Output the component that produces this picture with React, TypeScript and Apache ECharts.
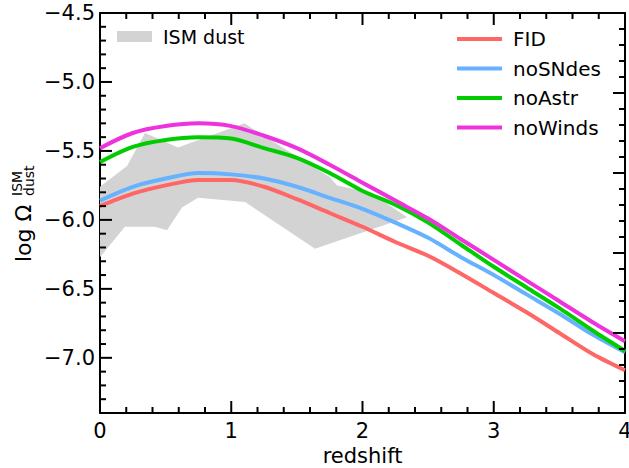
import React, { useEffect, useRef } from "react";
import * as echarts from "echarts";

const redshift = [0, 0.25, 0.5, 0.75, 1, 1.25, 1.5, 1.75, 2, 2.25, 2.5, 2.75, 3, 3.25, 3.5, 3.75, 4];
const fid = [-5.9, -5.81, -5.75, -5.71, -5.71, -5.76, -5.85, -5.95, -6.05, -6.16, -6.26, -6.39, -6.53, -6.67, -6.82, -6.97, -7.09];
const noSNdes = [-5.86, -5.76, -5.7, -5.66, -5.67, -5.7, -5.76, -5.84, -5.92, -6.02, -6.13, -6.27, -6.4, -6.54, -6.68, -6.83, -6.96];
const noAstr = [-5.58, -5.47, -5.42, -5.4, -5.41, -5.48, -5.55, -5.66, -5.79, -5.89, -6.02, -6.18, -6.34, -6.49, -6.64, -6.8, -6.95];
const noWinds = [-5.48, -5.37, -5.32, -5.3, -5.32, -5.39, -5.48, -5.6, -5.73, -5.86, -5.99, -6.14, -6.29, -6.44, -6.59, -6.74, -6.88];

const bandUpperX = [0, 0.206, 0.343, 0.594, 1.1, 1.752, 1.806, 2.057, 2.34];
const bandUpperY = [-5.76, -5.61, -5.37, -5.475, -5.3, -5.69, -5.75, -5.8, -5.98];
const bandLowerX = [1.638, 1.105, 0.747, 0.625, 0.51, 0.42, 0.19, 0];
const bandLowerY = [-6.21, -5.87, -5.84, -5.91, -6.075, -6.05, -6.05, -6.27];

const xMajorTicks = [0, 1, 2, 3, 4];
const xMinorTicks = [0.2, 0.4, 0.6, 0.8, 1.2, 1.4, 1.6, 1.8, 2.2, 2.4, 2.6, 2.8, 3.2, 3.4, 3.6, 3.8];
const yMajorTicks = [-7.0, -6.5, -6.0, -5.5, -5.0, -4.5];
const yMinorTicks = [-7.4, -7.3, -7.2, -7.1, -6.9, -6.8, -6.7, -6.6, -6.4, -6.3, -6.2, -6.1, -5.9, -5.8, -5.7, -5.6, -5.4, -5.3, -5.2, -5.1, -4.9, -4.8, -4.7, -4.6];
const rightMajorTicks = [0, 1, 2, 3, 4, 5];
const rightMinorTicks = [0.2, 0.4, 0.6, 0.8, 1.2, 1.4, 1.6, 1.8, 2.2, 2.4, 2.6, 2.8, 3.2, 3.4, 3.6, 3.8, 4.2, 4.4, 4.6, 4.8];

const seriesNames = ["FID", "noSNdes", "noAstr", "noWinds"];
const seriesColors = ["#ff6666", "#66b2ff", "#00cc00", "#ee33dd"];
const bandName = "ISM dust";
const bandColor = "#d3d3d3";

const FONT = "DejaVu Sans";
const MAJOR_LEN = 12;
const MINOR_LEN = 6;
const TICK_W = 2;

const axLine = { show: true, onZero: false, lineStyle: { color: "#000", width: 2 } };
const tickFill = { fill: "#000" };

export default function App() {
  const ref = useRef<HTMLDivElement>(null);
  useEffect(() => {
    if (!ref.current) return;
    const chart = echarts.init(ref.current, null, { renderer: "svg" });
    const lineData = [fid, noSNdes, noAstr, noWinds];
    const fmt = (v: number) => (v < 0 ? "\u2212" : "") + Math.abs(v).toFixed(1);
    const hidden = { show: false };

    const xTickData = [...xMajorTicks.map((v) => [v, MAJOR_LEN]), ...xMinorTicks.map((v) => [v, MINOR_LEN])];
    const yTickData = [...yMajorTicks.map((v) => [MAJOR_LEN, v]), ...yMinorTicks.map((v) => [MINOR_LEN, v])];
    const rTickData = [...rightMajorTicks.map((v) => [MAJOR_LEN, v]), ...rightMinorTicks.map((v) => [MINOR_LEN, v])];

    const option: any = {
      animation: false,
      backgroundColor: "#fff",
      grid: { left: 100, right: 4, top: 13, bottom: 55, outerBoundsMode: "none", containLabel: false },
      legend: [
        {
          data: [bandName],
          left: 117,
          top: 27,
          padding: 0,
          icon: "rect",
          itemWidth: 35,
          itemHeight: 11,
          textStyle: { fontFamily: FONT, fontSize: 19, color: "#000", padding: [0, 0, 0, 6] },
        },
        {
          data: seriesNames,
          orient: "vertical",
          left: 457,
          top: 29,
          padding: 0,
          icon: "rect",
          itemWidth: 45,
          itemHeight: 4,
          itemGap: 9.5,
          textStyle: { fontFamily: FONT, fontSize: 20, color: "#000", padding: [0, 0, 0, 6] },
        },
      ],
      xAxis: [
        {
          type: "value", min: 0, max: 4, interval: 1, position: "bottom",
          axisLine: axLine,
          axisTick: hidden,
          axisLabel: { fontFamily: FONT, fontSize: 21, color: "#000", margin: 7 },
          splitLine: hidden,
          name: "redshift", nameLocation: "middle", nameGap: 29,
          nameTextStyle: { fontFamily: FONT, fontSize: 21, color: "#000" },
        },
        {
          type: "value", min: 0, max: 4, interval: 1, position: "top",
          axisLine: axLine, axisTick: hidden, axisLabel: hidden, splitLine: hidden,
        },
      ],
      yAxis: [
        {
          type: "value", min: -7.4, max: -4.5, position: "left",
          axisLine: axLine,
          axisTick: hidden,
          axisLabel: { fontFamily: FONT, fontSize: 21, color: "#000", margin: 5, formatter: fmt, customValues: yMajorTicks },
          splitLine: hidden,
        },
        {
          type: "value", min: 0, max: 5, interval: 1, position: "right",
          axisLine: axLine, axisTick: hidden, axisLabel: hidden, splitLine: hidden,
        },
      ],
      series: [
        {
          name: bandName,
          type: "custom",
          xAxisIndex: 0,
          yAxisIndex: 0,
          itemStyle: { color: bandColor },
          data: [[0, -6]],
          z: 1,
          clip: true,
          renderItem: (params: any, api: any) => {
            const pts: number[][] = [];
            bandUpperX.forEach((x, i) => pts.push(api.coord([x, bandUpperY[i]])));
            bandLowerX.forEach((x, i) => pts.push(api.coord([x, bandLowerY[i]])));
            return { type: "polygon", shape: { points: pts }, style: { fill: bandColor } };
          },
        },
        ...seriesNames.map((name, i) => ({
          name,
          type: "line",
          xAxisIndex: 0,
          yAxisIndex: 0,
          smooth: 0.3,
          showSymbol: false,
          z: 3,
          color: seriesColors[i],
          lineStyle: { color: seriesColors[i], width: 4 },
          data: redshift.map((x, j) => [x, lineData[i][j]]),
        })),
        {
          name: "_xticks",
          type: "custom",
          xAxisIndex: 0,
          yAxisIndex: 0,
          clip: false,
          silent: true,
          z: 5,
          data: xTickData,
          renderItem: (params: any, api: any) => {
            const cs = params.coordSys;
            const px = api.coord([api.value(0), -6])[0];
            const len = api.value(1);
            const bottom = cs.y + cs.height;
            return {
              type: "group",
              children: [
                { type: "rect", shape: { x: px - TICK_W / 2, y: bottom - len, width: TICK_W, height: len }, style: tickFill },
                { type: "rect", shape: { x: px - TICK_W / 2, y: cs.y, width: TICK_W, height: len }, style: tickFill },
              ],
            };
          },
        },
        {
          name: "_yticks",
          type: "custom",
          xAxisIndex: 0,
          yAxisIndex: 0,
          clip: false,
          silent: true,
          z: 5,
          data: yTickData,
          renderItem: (params: any, api: any) => {
            const cs = params.coordSys;
            const py = api.coord([0, api.value(1)])[1];
            const len = api.value(0);
            return { type: "rect", shape: { x: cs.x, y: py - TICK_W / 2, width: len, height: TICK_W }, style: tickFill };
          },
        },
        {
          name: "_rticks",
          type: "custom",
          xAxisIndex: 0,
          yAxisIndex: 1,
          clip: false,
          silent: true,
          z: 5,
          data: rTickData,
          renderItem: (params: any, api: any) => {
            const cs = params.coordSys;
            const py = api.coord([0, api.value(1)])[1];
            const len = api.value(0);
            const right = cs.x + cs.width;
            return { type: "rect", shape: { x: right - len, y: py - TICK_W / 2, width: len, height: TICK_W }, style: tickFill };
          },
        },
      ],
      graphic: [
        {
          type: "group",
          x: 31,
          y: 262,
          rotation: Math.PI / 2,
          children: [
            { type: "text", x: 0, y: -7.5, style: { text: "log Ω", fontFamily: FONT, fontSize: 22, fill: "#000", textAlign: "left", verticalAlign: "middle" } },
            { type: "text", x: 66, y: -14, style: { text: "ISM", fontFamily: FONT, fontSize: 14, fill: "#000", textAlign: "left", verticalAlign: "middle" } },
            { type: "text", x: 66, y: -2, style: { text: "dust", fontFamily: FONT, fontSize: 14, fill: "#000", textAlign: "left", verticalAlign: "middle" } },
          ],
        },
      ],
    };
    chart.setOption(option);
    return () => chart.dispose();
  }, []);
  return <div ref={ref} style={{ position: "fixed", left: 0, top: 0, width: 629, height: 468 }} />;
}
